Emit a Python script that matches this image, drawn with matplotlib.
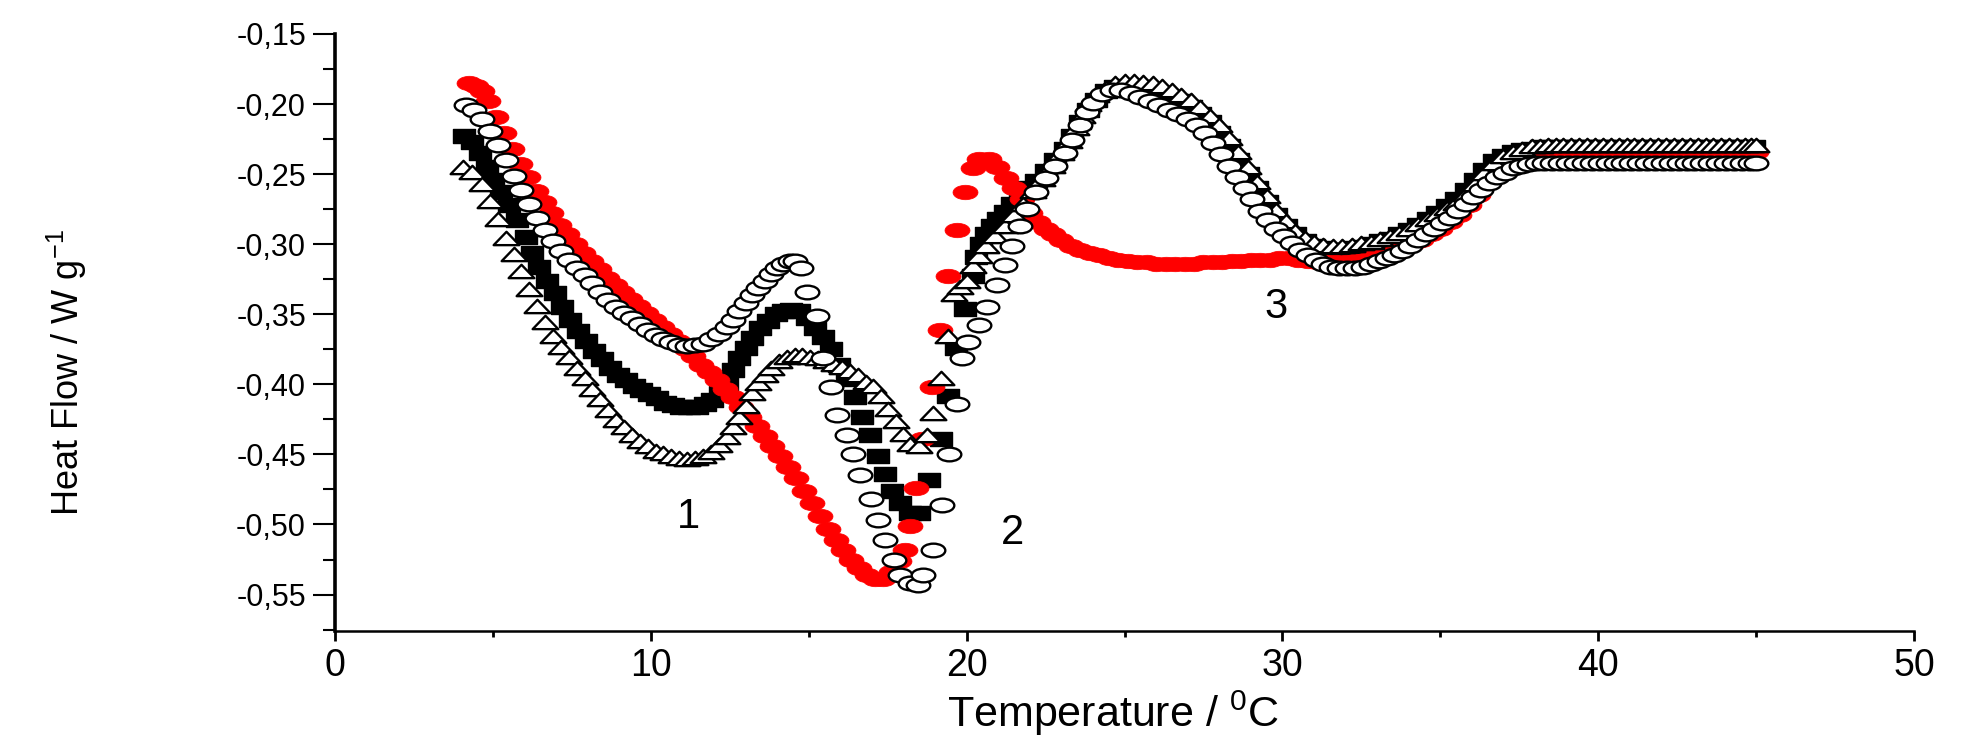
#!/usr/bin/env python3
"""
plot.py

DSC heating curves (heat flow vs temperature) for four samples,
drawn as marker-only scatter series with the three thermal events labelled.
"""

import matplotlib
matplotlib.use("Agg")
import matplotlib.pyplot as plt
from matplotlib.path import Path
from matplotlib.transforms import Affine2D
from matplotlib.ticker import MultipleLocator, FuncFormatter

# ---- data (temperature in degC, heat flow in W/g) ----

RED_T = [
    4.23, 4.45, 4.65, 4.85, 5.1, 5.35, 5.6, 5.85, 6.1, 6.35,
    6.6, 6.85, 7.1, 7.35, 7.6, 7.85, 8.1, 8.35, 8.6, 8.85,
    9.1, 9.35, 9.6, 9.85, 10.1, 10.35, 10.6, 10.85, 11.1, 11.35,
    11.6, 11.85, 12.1, 12.35, 12.6, 12.85, 13.1, 13.35, 13.6, 13.85,
    14.1, 14.35, 14.6, 14.85, 15.1, 15.35, 15.6, 15.85, 16.1, 16.35,
    16.6, 16.85, 17.1, 17.35, 17.6, 17.85, 18.05, 18.2, 18.4, 18.6,
    18.9, 19.15, 19.4, 19.7, 19.95, 20.2, 20.4, 20.7, 20.95, 21.25,
    21.5, 21.75, 22.0, 22.25, 22.5, 22.75, 23.0, 23.3, 23.6, 23.9,
    24.2, 24.5, 24.8, 25.1, 25.4, 25.7, 26.0, 26.3, 26.6, 26.9,
    27.2, 27.5, 27.8, 28.1, 28.4, 28.7, 29.0, 29.3, 29.6, 29.9,
    30.2, 30.5, 30.8, 31.1, 31.4, 31.7, 32.0, 32.3, 32.6, 32.9,
    33.2, 33.5, 33.8, 34.1, 34.4, 34.7, 35.0, 35.3, 35.6, 35.9,
    36.2, 36.5, 36.8, 37.1, 37.4, 37.7, 38.0, 38.25, 38.5, 38.75,
    39.0, 39.25, 39.5, 39.75, 40.0, 40.25, 40.5, 40.75, 41.0, 41.25,
    41.5, 41.75, 42.0, 42.25, 42.5, 42.75, 43.0, 43.25, 43.5, 43.75,
    44.0, 44.25, 44.5, 44.75, 45.0,
]
RED_HF = [
    -0.185, -0.187, -0.191, -0.198, -0.209, -0.221, -0.232, -0.243, -0.252, -0.262,
    -0.270, -0.278, -0.286, -0.293, -0.300, -0.306, -0.312, -0.318, -0.324, -0.329,
    -0.334, -0.339, -0.344, -0.349, -0.354, -0.359, -0.364, -0.369, -0.375, -0.380,
    -0.386, -0.391, -0.397, -0.403, -0.409, -0.416, -0.423, -0.430, -0.437, -0.444,
    -0.451, -0.459, -0.467, -0.476, -0.485, -0.494, -0.503, -0.511, -0.518, -0.525,
    -0.531, -0.536, -0.539, -0.539, -0.534, -0.526, -0.518, -0.501, -0.474, -0.439,
    -0.402, -0.361, -0.323, -0.290, -0.263, -0.246, -0.239, -0.239, -0.245, -0.253,
    -0.260, -0.268, -0.278, -0.284, -0.289, -0.293, -0.297, -0.301, -0.304, -0.306,
    -0.308, -0.310, -0.311, -0.312, -0.313, -0.313, -0.314, -0.314, -0.314, -0.314,
    -0.314, -0.313, -0.313, -0.313, -0.312, -0.312, -0.311, -0.311, -0.311, -0.310,
    -0.310, -0.311, -0.312, -0.313, -0.313, -0.313, -0.313, -0.312, -0.311, -0.309,
    -0.308, -0.306, -0.303, -0.300, -0.297, -0.293, -0.289, -0.284, -0.279, -0.272,
    -0.265, -0.256, -0.248, -0.242, -0.239, -0.237, -0.235, -0.235, -0.234, -0.234,
    -0.234, -0.234, -0.234, -0.234, -0.234, -0.234, -0.234, -0.234, -0.234, -0.234,
    -0.234, -0.234, -0.234, -0.234, -0.234, -0.234, -0.234, -0.234, -0.234, -0.234,
    -0.234, -0.234, -0.234, -0.234, -0.234,
]

CIR_T = [
    4.13, 4.4, 4.65, 4.9, 5.15, 5.4, 5.65, 5.9, 6.15, 6.4,
    6.65, 6.9, 7.15, 7.4, 7.65, 7.9, 8.15, 8.4, 8.65, 8.9,
    9.15, 9.4, 9.65, 9.9, 10.15, 10.4, 10.65, 10.9, 11.15, 11.4,
    11.65, 11.9, 12.15, 12.4, 12.6, 12.8, 13.0, 13.2, 13.4, 13.6,
    13.8, 14.0, 14.2, 14.4, 14.55, 14.75, 14.95, 15.25, 15.45, 15.7,
    15.9, 16.2, 16.4, 16.62, 16.96, 17.2, 17.4, 17.7, 17.9, 18.2,
    18.47, 18.62, 18.95, 19.22, 19.45, 19.7, 19.85, 20.05, 20.4, 20.65,
    20.95, 21.2, 21.45, 21.7, 21.9, 22.2, 22.5, 22.8, 23.1, 23.35,
    23.6, 23.8, 24.0, 24.3, 24.6, 24.9, 25.2, 25.5, 25.8, 26.1,
    26.4, 26.7, 27.0, 27.3, 27.55, 27.8, 28.05, 28.3, 28.55, 28.8,
    29.05, 29.3, 29.55, 29.8, 30.05, 30.3, 30.55, 30.8, 31.05, 31.3,
    31.55, 31.8, 32.05, 32.3, 32.55, 32.8, 33.05, 33.3, 33.55, 33.8,
    34.05, 34.3, 34.55, 34.8, 35.05, 35.3, 35.55, 35.8, 36.05, 36.3,
    36.55, 36.8, 37.05, 37.3, 37.55, 37.8, 38.05, 38.3, 38.55, 38.8,
    39.05, 39.3, 39.55, 39.8, 40.05, 40.3, 40.55, 40.8, 41.05, 41.3,
    41.55, 41.8, 42.05, 42.3, 42.55, 42.8, 43.05, 43.3, 43.55, 43.8,
    44.05, 44.3, 44.55, 44.8, 45.0,
]
CIR_HF = [
    -0.201, -0.204, -0.211, -0.219, -0.229, -0.240, -0.251, -0.261, -0.271, -0.281,
    -0.290, -0.298, -0.305, -0.311, -0.317, -0.322, -0.328, -0.334, -0.340, -0.345,
    -0.349, -0.353, -0.357, -0.361, -0.365, -0.368, -0.370, -0.372, -0.373, -0.372,
    -0.371, -0.368, -0.364, -0.359, -0.354, -0.348, -0.342, -0.336, -0.331, -0.326,
    -0.321, -0.317, -0.314, -0.312, -0.312, -0.317, -0.334, -0.351, -0.381, -0.402,
    -0.422, -0.436, -0.450, -0.465, -0.482, -0.497, -0.511, -0.525, -0.536, -0.542,
    -0.543, -0.536, -0.518, -0.486, -0.450, -0.414, -0.381, -0.370, -0.358, -0.345,
    -0.329, -0.315, -0.301, -0.287, -0.275, -0.263, -0.253, -0.244, -0.235, -0.226,
    -0.215, -0.206, -0.199, -0.193, -0.190, -0.190, -0.192, -0.195, -0.198, -0.201,
    -0.204, -0.207, -0.211, -0.215, -0.221, -0.228, -0.236, -0.244, -0.252, -0.260,
    -0.268, -0.276, -0.283, -0.289, -0.294, -0.299, -0.304, -0.308, -0.311, -0.314,
    -0.316, -0.317, -0.317, -0.317, -0.316, -0.314, -0.312, -0.310, -0.308, -0.305,
    -0.301, -0.297, -0.293, -0.289, -0.285, -0.281, -0.276, -0.271, -0.266, -0.261,
    -0.256, -0.252, -0.249, -0.246, -0.244, -0.243, -0.242, -0.242, -0.242, -0.242,
    -0.242, -0.242, -0.242, -0.242, -0.242, -0.242, -0.242, -0.242, -0.242, -0.242,
    -0.242, -0.242, -0.242, -0.242, -0.242, -0.242, -0.242, -0.242, -0.242, -0.242,
    -0.242, -0.242, -0.242, -0.242, -0.242,
]

SQ_T = [
    4.07, 4.35, 4.6, 4.8, 5.0, 5.25, 5.5, 5.77, 6.04, 6.25,
    6.45, 6.7, 6.95, 7.2, 7.45, 7.7, 7.95, 8.2, 8.45, 8.7,
    8.95, 9.2, 9.45, 9.7, 9.95, 10.2, 10.45, 10.7, 10.95, 11.2,
    11.45, 11.7, 11.95, 12.2, 12.4, 12.6, 12.8, 13.0, 13.2, 13.45,
    13.7, 13.95, 14.2, 14.45, 14.7, 14.95, 15.2, 15.45, 15.7, 15.95,
    16.2, 16.45, 16.7, 16.95, 17.2, 17.4, 17.65, 17.9, 18.2, 18.5,
    18.8, 19.2, 19.4, 19.65, 19.95, 20.2, 20.3, 20.45, 20.6, 20.8,
    21.0, 21.2, 21.45, 21.7, 21.95, 22.2, 22.5, 22.8, 23.1, 23.35,
    23.6, 23.85, 24.1, 24.4, 24.7, 25.0, 25.3, 25.6, 25.9, 26.2,
    26.5, 26.8, 27.1, 27.4, 27.7, 28.0, 28.3, 28.6, 28.9, 29.2,
    29.5, 29.8, 30.1, 30.4, 30.7, 31.0, 31.3, 31.6, 31.9, 32.2,
    32.5, 32.8, 33.1, 33.4, 33.7, 34.0, 34.3, 34.6, 34.9, 35.2,
    35.5, 35.8, 36.1, 36.4, 36.7, 37.0, 37.3, 37.6, 37.9, 38.2,
    38.45, 38.7, 38.95, 39.2, 39.45, 39.7, 39.95, 40.2, 40.45, 40.7,
    40.95, 41.2, 41.45, 41.7, 41.95, 42.2, 42.45, 42.7, 42.95, 43.2,
    43.45, 43.7, 43.95, 44.2, 44.45, 44.7, 44.95,
]
SQ_HF = [
    -0.223, -0.227, -0.235, -0.245, -0.254, -0.263, -0.272, -0.283, -0.295, -0.306,
    -0.316, -0.326, -0.335, -0.345, -0.354, -0.362, -0.369, -0.376, -0.382, -0.388,
    -0.393, -0.397, -0.401, -0.404, -0.407, -0.410, -0.413, -0.415, -0.416, -0.416,
    -0.416, -0.414, -0.411, -0.406, -0.399, -0.390, -0.381, -0.374, -0.367, -0.360,
    -0.355, -0.350, -0.348, -0.347, -0.348, -0.353, -0.360, -0.366, -0.375, -0.386,
    -0.396, -0.409, -0.423, -0.436, -0.451, -0.464, -0.476, -0.485, -0.492, -0.492,
    -0.468, -0.439, -0.408, -0.374, -0.346, -0.323, -0.309, -0.300, -0.293, -0.287,
    -0.282, -0.277, -0.271, -0.266, -0.260, -0.255, -0.248, -0.240, -0.232, -0.223,
    -0.213, -0.204, -0.197, -0.191, -0.188, -0.187, -0.187, -0.188, -0.190, -0.192,
    -0.195, -0.198, -0.202, -0.207, -0.213, -0.221, -0.230, -0.240, -0.250, -0.260,
    -0.270, -0.279, -0.287, -0.293, -0.298, -0.301, -0.303, -0.304, -0.304, -0.303,
    -0.302, -0.300, -0.298, -0.296, -0.293, -0.290, -0.286, -0.282, -0.278, -0.273,
    -0.268, -0.261, -0.254, -0.247, -0.241, -0.237, -0.234, -0.233, -0.232, -0.231,
    -0.231, -0.231, -0.231, -0.231, -0.231, -0.231, -0.231, -0.231, -0.231, -0.231,
    -0.231, -0.231, -0.231, -0.231, -0.231, -0.231, -0.231, -0.231, -0.231, -0.231,
    -0.231, -0.231, -0.231, -0.231, -0.231, -0.231, -0.231,
]

TRI_T = [
    4.04, 4.35, 4.65, 4.9, 5.15, 5.4, 5.65, 5.9, 6.15, 6.4,
    6.65, 6.9, 7.15, 7.4, 7.65, 7.9, 8.15, 8.4, 8.65, 8.9,
    9.15, 9.4, 9.65, 9.9, 10.15, 10.4, 10.65, 10.9, 11.15, 11.4,
    11.65, 11.9, 12.15, 12.4, 12.6, 12.8, 13.0, 13.2, 13.4, 13.6,
    13.8, 14.05, 14.3, 14.55, 14.8, 15.05, 15.3, 15.55, 15.8, 16.05,
    16.3, 16.55, 16.8, 17.05, 17.3, 17.5, 17.75, 18.0, 18.2, 18.5,
    18.75, 18.95, 19.2, 19.4, 19.6, 19.8, 20.0, 20.2, 20.4, 20.6,
    20.9, 21.2, 21.5, 21.8, 22.1, 22.4, 22.7, 23.0, 23.25, 23.45,
    23.65, 23.85, 24.1, 24.4, 24.7, 25.0, 25.3, 25.6, 25.9, 26.2,
    26.5, 26.8, 27.1, 27.4, 27.7, 28.0, 28.3, 28.6, 28.9, 29.2,
    29.5, 29.8, 30.1, 30.4, 30.7, 31.0, 31.3, 31.6, 31.9, 32.2,
    32.5, 32.8, 33.1, 33.4, 33.7, 34.0, 34.3, 34.6, 34.9, 35.2,
    35.5, 35.8, 36.1, 36.4, 36.7, 37.0, 37.3, 37.6, 37.9, 38.15,
    38.4, 38.65, 38.9, 39.15, 39.4, 39.65, 39.9, 40.15, 40.4, 40.65,
    40.9, 41.15, 41.4, 41.65, 41.9, 42.15, 42.4, 42.65, 42.9, 43.15,
    43.4, 43.65, 43.9, 44.15, 44.4, 44.65, 44.85, 45.0,
]
TRI_HF = [
    -0.246, -0.249, -0.258, -0.270, -0.283, -0.296, -0.308, -0.320, -0.333, -0.345,
    -0.356, -0.366, -0.374, -0.381, -0.389, -0.396, -0.404, -0.411, -0.419, -0.426,
    -0.431, -0.437, -0.441, -0.445, -0.448, -0.450, -0.452, -0.453, -0.454, -0.453,
    -0.452, -0.449, -0.444, -0.438, -0.431, -0.424, -0.416, -0.407, -0.400, -0.394,
    -0.389, -0.384, -0.381, -0.380, -0.380, -0.381, -0.382, -0.384, -0.386, -0.388,
    -0.391, -0.394, -0.399, -0.402, -0.409, -0.418, -0.427, -0.436, -0.443, -0.445,
    -0.437, -0.421, -0.396, -0.366, -0.336, -0.331, -0.327, -0.316, -0.309, -0.302,
    -0.295, -0.288, -0.280, -0.272, -0.263, -0.254, -0.245, -0.236, -0.227, -0.218,
    -0.209, -0.201, -0.194, -0.189, -0.186, -0.184, -0.184, -0.185, -0.186, -0.188,
    -0.191, -0.194, -0.198, -0.203, -0.209, -0.216, -0.225, -0.235, -0.246, -0.256,
    -0.266, -0.276, -0.284, -0.291, -0.296, -0.299, -0.301, -0.302, -0.302, -0.301,
    -0.300, -0.299, -0.297, -0.295, -0.293, -0.290, -0.286, -0.283, -0.279, -0.275,
    -0.271, -0.265, -0.258, -0.250, -0.243, -0.238, -0.235, -0.233, -0.231, -0.231,
    -0.230, -0.230, -0.230, -0.230, -0.230, -0.230, -0.230, -0.230, -0.230, -0.230,
    -0.230, -0.230, -0.230, -0.230, -0.230, -0.230, -0.230, -0.230, -0.230, -0.230,
    -0.230, -0.230, -0.230, -0.230, -0.230, -0.230, -0.230, -0.230,
]

# event labels: text, temperature, heat flow
EVENT_LABELS = ["1", "2", "3"]
EVENT_T = [11.2, 21.45, 29.8]
EVENT_HF = [-0.495, -0.506, -0.345]

Y_TICKS = [-0.55, -0.50, -0.45, -0.40, -0.35, -0.30, -0.25, -0.20, -0.15]
X_TICKS = [0, 10, 20, 30, 40, 50]


def main():
    for t, hf in ((RED_T, RED_HF), (CIR_T, CIR_HF), (SQ_T, SQ_HF), (TRI_T, TRI_HF)):
        assert len(t) == len(hf), (len(t), len(hf))

    plt.rcParams["font.family"] = ["Liberation Sans", "DejaVu Sans"]
    plt.rcParams["mathtext.default"] = "regular"

    # the original figure is stretched sideways, so markers are flattened
    ellipse = Affine2D().scale(1.0, 0.58).transform_path(Path.unit_circle())
    square = Path([(-1, -0.58), (1, -0.58), (1, 0.58), (-1, 0.58), (-1, -0.58)], closed=True)
    triangle = Path([(-1, -0.44), (1, -0.44), (0, 0.6), (-1, -0.44)], closed=True)

    fig = plt.figure(figsize=(19.77, 7.38), dpi=100)
    ax = fig.add_axes([0.1695, 0.145, 0.7986, 0.809])

    ax.plot(SQ_T, SQ_HF, ls="none", marker=square, ms=16.5,
            mfc="black", mec="black", mew=1.0)
    ax.plot(RED_T, RED_HF, ls="none", marker=ellipse, ms=18,
            mfc="#ff0000", mec="#ff0000", mew=0.5)
    ax.plot(TRI_T, TRI_HF, ls="none", marker=triangle, ms=18.5,
            mfc="white", mec="black", mew=1.7)
    ax.plot(CIR_T, CIR_HF, ls="none", marker=ellipse, ms=17,
            mfc="white", mec="black", mew=1.7)

    for label, t, hf in zip(EVENT_LABELS, EVENT_T, EVENT_HF):
        ax.text(t, hf, label, fontsize=30, ha="center", va="center")

    ax.set_xlim(0, 50)
    ax.set_ylim(-0.576, -0.15)
    ax.set_xticks(X_TICKS)
    ax.set_yticks(Y_TICKS)
    ax.xaxis.set_minor_locator(MultipleLocator(5))
    ax.yaxis.set_minor_locator(MultipleLocator(0.025))
    ax.yaxis.set_major_formatter(FuncFormatter(lambda v, p: f"{v:.2f}".replace(".", ",")))

    ax.spines["top"].set_visible(False)
    ax.spines["right"].set_visible(False)
    ax.spines["left"].set_linewidth(2.6)
    ax.spines["bottom"].set_linewidth(1.8)

    ax.tick_params(axis="y", which="major", direction="out", length=16, width=1.5,
                   labelsize=22, pad=5)
    ax.tick_params(axis="y", which="minor", direction="out", length=9, width=1.5)
    ax.tick_params(axis="x", which="major", direction="out", length=7, width=2,
                   labelsize=27, pad=5)
    ax.tick_params(axis="x", which="minor", direction="out", length=4, width=2)

    fig.text(0.034, 0.495, "Heat Flow / W g$^{-1}$", rotation=90,
             ha="center", va="center", fontsize=26)
    fig.text(0.563, 0.033, "Temperature / $^{0}$C", ha="center", va="center",
             fontsize=31)

    fig.savefig("out.png", dpi=100)


if __name__ == "__main__":
    main()
